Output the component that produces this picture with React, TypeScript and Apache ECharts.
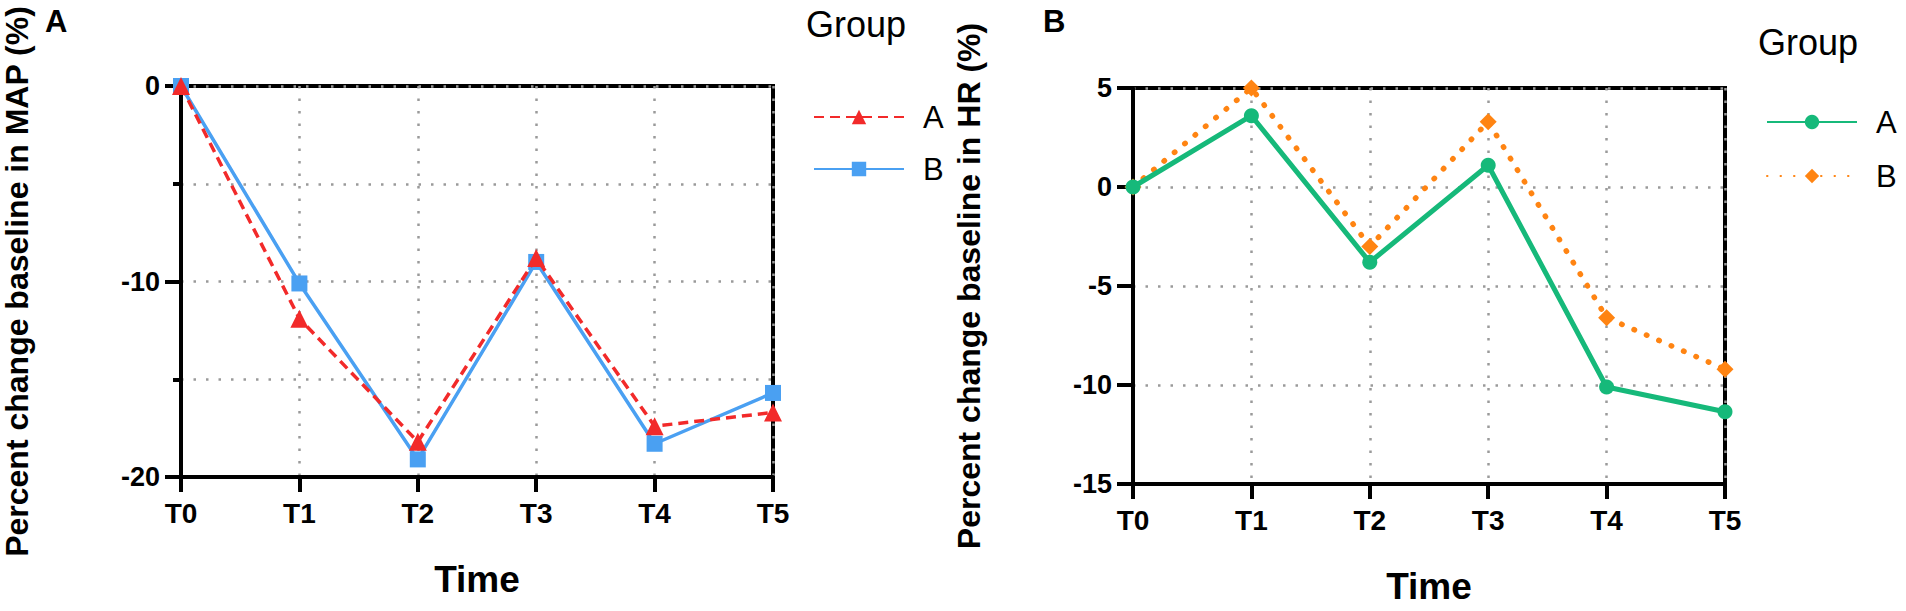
import React, { useEffect, useRef } from "react";
import * as echarts from "echarts";

const categories = ["T0", "T1", "T2", "T3", "T4", "T5"];
const mapGroupA = [0, -11.9, -18.2, -8.8, -17.4, -16.7];
const mapGroupB = [0, -10.1, -19.1, -9.0, -18.3, -15.7];
const hrGroupA = [0, 3.6, -3.8, 1.1, -10.1, -11.35];
const hrGroupB = [0, 5.0, -3.0, 3.3, -6.6, -9.2];
const mapTicks = { min: -20, max: 0, interval: 10 };
const hrTicks = { min: -15, max: 5, interval: 5 };

const FONT = "Arial, 'Liberation Sans', Helvetica, sans-serif";
const RED = "#f22a2a";
const BLUE = "#4aa0f2";
const GREEN = "#16b97a";
const ORANGE = "#ff8412";
const GRIDLINE = { color: "#9a9a9a", width: 2.5, type: [2.5, 10] as any };

function buildOption(p: any) {
  const o = p.offset;
  return {
    animation: false,
    grid: {
      left: o + p.gridLeft,
      top: p.gridTop,
      width: 592,
      height: p.gridHeight,
      show: true,
      borderColor: "#000",
      borderWidth: 4,
      backgroundColor: "transparent",
    },
    graphic: [
      {
        type: "text",
        left: o + p.panelX,
        top: 6,
        style: { text: p.panel, font: `bold 31px ${FONT}`, fill: "#000" },
      },
      {
        type: "text",
        left: o + p.groupX,
        top: p.groupTop,
        style: { text: "Group", font: `36px ${FONT}`, fill: "#000" },
      },
    ],
    legend: {
      orient: "vertical",
      left: o + 808,
      top: p.legendTop,
      itemWidth: 90,
      itemHeight: 18,
      itemGap: p.legendGap,
      data: ["A", "B"],
      selectedMode: false,
      textStyle: {
        fontSize: 31,
        color: "#000",
        fontFamily: FONT,
        lineHeight: 34,
        padding: [0, 0, 0, 14],
      },
    },
    xAxis: {
      type: "category",
      data: categories,
      boundaryGap: false,
      axisLine: { show: true, onZero: false, lineStyle: { color: "#000", width: 4 } },
      axisTick: { show: true, length: 15, lineStyle: { color: "#000", width: 4 } },
      axisLabel: {
        interval: 0,
        margin: 22,
        fontSize: 28,
        fontWeight: "bold",
        color: "#000",
        fontFamily: FONT,
      },
      splitLine: { show: true, lineStyle: GRIDLINE },
      name: "Time",
      nameLocation: "middle",
      nameGap: 84,
      nameTextStyle: { fontSize: 37, fontWeight: "bold", color: "#000", fontFamily: FONT },
    },
    yAxis: {
      type: "value",
      min: p.ticks.min,
      max: p.ticks.max,
      interval: p.ticks.interval,
      axisLine: { show: true, onZero: false, lineStyle: { color: "#000", width: 4 } },
      axisTick: { show: true, length: 16, lineStyle: { color: "#000", width: 4 } },
      minorTick: p.minor
        ? { show: true, splitNumber: 2, length: 8, lineStyle: { color: "#000", width: 4 } }
        : { show: false },
      minorSplitLine: p.minor ? { show: true, lineStyle: GRIDLINE } : { show: false },
      splitLine: { show: true, lineStyle: GRIDLINE },
      axisLabel: {
        margin: 21,
        fontSize: 27,
        fontWeight: "bold",
        color: "#000",
        fontFamily: FONT,
      },
      name: p.yName,
      nameLocation: "middle",
      nameGap: 148,
      nameTextStyle: { fontSize: 32, fontWeight: "bold", color: "#000", fontFamily: FONT },
    },
    series: p.series,
  };
}

const leftParams = {
  offset: 0,
  gridLeft: 181,
  gridTop: 86,
  gridHeight: 391,
  panel: "A",
  panelX: 45,
  groupX: 806,
  groupTop: 6,
  legendTop: 95,
  legendGap: 18,
  ticks: mapTicks,
  minor: true,
  yName: "Percent change baseline in MAP (%)",
  series: [
    {
      type: "line",
      name: "B",
      data: mapGroupB,
      symbol: "rect",
      symbolSize: 16,
      lineStyle: { color: BLUE, width: 3.5 },
      itemStyle: { color: BLUE },
      z: 2,
    },
    {
      type: "line",
      name: "A",
      data: mapGroupA,
      symbol: "triangle",
      symbolSize: 18,
      lineStyle: { color: RED, width: 3.5, type: [10, 6] },
      itemStyle: { color: RED },
      z: 3,
    },
  ],
};

const rightParams = {
  offset: 953,
  gridLeft: 180,
  gridTop: 88,
  gridHeight: 396,
  panel: "B",
  panelX: 90,
  groupX: 805,
  groupTop: 24,
  legendTop: 100,
  legendGap: 20,
  ticks: hrTicks,
  minor: false,
  yName: "Percent change baseline in HR (%)",
  series: [
    {
      type: "line",
      name: "B",
      data: hrGroupB,
      symbol: "diamond",
      symbolSize: 17,
      lineStyle: { color: ORANGE, width: 5.5, type: [0.5, 13], cap: "round" },
      itemStyle: { color: ORANGE },
      z: 2,
    },
    {
      type: "line",
      name: "A",
      data: hrGroupA,
      symbol: "circle",
      symbolSize: 15,
      lineStyle: { color: GREEN, width: 5 },
      itemStyle: { color: GREEN },
      z: 3,
    },
  ],
};

function Panel({ params }: { params: any }) {
  const ref = useRef<HTMLDivElement>(null);
  useEffect(() => {
    if (!ref.current) return;
    const chart = echarts.init(ref.current, undefined, { renderer: "svg" });
    chart.setOption(buildOption(params));
    return () => chart.dispose();
  }, [params]);
  return (
    <div
      ref={ref}
      style={{ position: "absolute", left: 0, top: 0, width: 1906, height: 611 }}
    />
  );
}

export default function App() {
  return (
    <div
      style={{
        position: "fixed",
        left: 0,
        top: 0,
        width: 1906,
        height: 611,
        background: "#fff",
        overflow: "hidden",
      }}
    >
      <Panel params={leftParams} />
      <Panel params={rightParams} />
    </div>
  );
}
